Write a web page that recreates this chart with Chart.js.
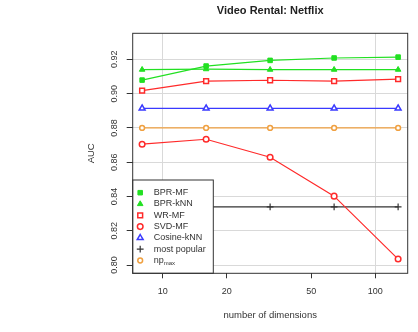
<!DOCTYPE html>
<html>
<head>
<meta charset="utf-8">
<script src="https://cdn.jsdelivr.net/npm/chart.js@4.4.1/dist/chart.umd.min.js"></script>
<style>
  html, body { margin: 0; padding: 0; background: #fff; }
  #wrap { width: 418px; height: 332px; }
</style>
</head>
<body>
<div id="wrap"><canvas id="auc_chart" width="418" height="332"></canvas></div>
<script>
// number of latent dimensions (x axis, log scale)
const dims = [8, 16, 32, 64, 128];

// AUC per method
const bprMF      = [0.9079, 0.9161, 0.9194, 0.9208, 0.9213];
const bprKNN     = [0.9140, 0.9143, 0.9140, 0.9140, 0.9140];
const wrMF       = [0.9018, 0.9073, 0.9078, 0.9073, 0.9085];
const svdMF      = [0.8705, 0.8734, 0.8629, 0.8402, 0.8035];
const cosineKNN  = [0.8914, 0.8914, 0.8914, 0.8914, 0.8914];
const mostPopular = [0.8340, 0.8340, 0.8340, 0.8340, 0.8340];
const npMax      = [0.8800, 0.8800, 0.8800, 0.8800, 0.8800];

const xTicks = [10, 20, 50, 100];
const yTicks = [0.80, 0.82, 0.84, 0.86, 0.88, 0.90, 0.92];

const textColor = "#333";
const gridColor = "#d9d9d9";
const fontFamily = "'Liberation Sans', Arial, sans-serif";

function pts(vals) {
    return dims.map((d, i) => ({ x: d, y: vals[i] }));
}

function series(label, vals, color, style, radius, filled, legendLabel) {
    return {
        label: label,
        legendLabel: legendLabel || [label],
        data: pts(vals),
        borderColor: color,
        backgroundColor: color,
        borderWidth: 1.2,
        pointStyle: style,
        pointRadius: radius,
        pointHoverRadius: radius,
        pointBorderColor: color,
        pointBackgroundColor: filled ? color : "#fff",
        pointBorderWidth: filled ? 1 : 1.5,
        tension: 0
    };
}

const datasets = [
    series("BPR-MF", bprMF, "#22e022", "rect", 3.2, true),
    series("BPR-kNN", bprKNN, "#22e022", "triangle", 3.2, true),
    series("WR-MF", wrMF, "#ff2a2a", "rect", 3.4, false),
    series("SVD-MF", svdMF, "#ff2a2a", "circle", 2.8, false),
    series("Cosine-kNN", cosineKNN, "#3a3aff", "triangle", 3.4, false),
    series("most popular", mostPopular, "#333", "cross", 3.4, true),
    series("np_max", npMax, "#f0a040", "circle", 2.4, false, ["np", "max"])
];
datasets[5].pointBorderWidth = 1.2;

// box round the plot area
const frame = {
    id: "frame",
    afterDraw(chart) {
        const { ctx, chartArea: a } = chart;
        ctx.save();
        ctx.strokeStyle = "#333";
        ctx.lineWidth = 1;
        ctx.strokeRect(a.left, a.top, a.right - a.left, a.bottom - a.top);
        ctx.restore();
    }
};

function drawMarker(ctx, style, r, x, y) {
    if (style === "rect") {
        const s = Math.SQRT1_2 * r;
        ctx.rect(x - s, y - s, 2 * s, 2 * s);
    } else if (style === "triangle") {
        ctx.moveTo(x, y - r);
        ctx.lineTo(x + r * 0.866, y + r * 0.5);
        ctx.lineTo(x - r * 0.866, y + r * 0.5);
        ctx.closePath();
    } else if (style === "cross") {
        ctx.moveTo(x - r, y); ctx.lineTo(x + r, y);
        ctx.moveTo(x, y - r); ctx.lineTo(x, y + r);
    } else {
        ctx.arc(x, y, r, 0, Math.PI * 2);
    }
}

// legend box in the bottom left corner, drawn over the lines
const boxLegend = {
    id: "boxLegend",
    afterDatasetsDraw(chart) {
        const { ctx, chartArea: a } = chart;
        const x0 = a.left, y0 = 180, w = 80.6, h = a.bottom - y0;
        ctx.save();
        ctx.fillStyle = "#fff";
        ctx.fillRect(x0, y0, w, h);
        ctx.strokeStyle = "#333";
        ctx.lineWidth = 1;
        ctx.strokeRect(x0, y0, w, h);
        ctx.textBaseline = "middle";
        ctx.textAlign = "left";
        chart.data.datasets.forEach((ds, i) => {
            const y = 192.7 + i * 11.3;
            ctx.fillStyle = ds.pointBackgroundColor;
            ctx.strokeStyle = ds.pointBorderColor;
            ctx.lineWidth = ds.pointBorderWidth;
            ctx.beginPath();
            drawMarker(ctx, ds.pointStyle, ds.pointRadius, x0 + 7.5, y);
            if (ds.pointStyle !== "cross") ctx.fill();
            ctx.stroke();
            ctx.fillStyle = textColor;
            ctx.font = "9px " + fontFamily;
            ctx.fillText(ds.legendLabel[0], x0 + 21, y);
            if (ds.legendLabel[1]) {
                const tw = ctx.measureText(ds.legendLabel[0]).width;
                ctx.font = "6px " + fontFamily;
                ctx.fillText(ds.legendLabel[1], x0 + 21 + tw, y + 2.5);
            }
        });
        ctx.restore();
    }
};

new Chart(document.getElementById("auc_chart"), {
    type: "line",
    data: { datasets: datasets },
    options: {
        responsive: false,
        animation: false,
        layout: { padding: { left: 0, right: 10.3, top: 0, bottom: 0 } },
        plugins: {
            legend: { display: false },
            tooltip: { enabled: false },
            title: {
                display: true,
                fullSize: false,
                text: "Video Rental: Netflix",
                color: "#222",
                font: { family: fontFamily, size: 11, weight: "bold" },
                padding: { top: 4, bottom: 16.1 }
            }
        },
        scales: {
            x: {
                type: "logarithmic",
                min: 7.225,
                max: 142,
                afterBuildTicks: s => { s.ticks = xTicks.map(v => ({ value: v })); },
                afterFit: s => { s.height = 332 - 273.3; },
                border: { display: false },
                grid: {
                    color: c => (c.tick && (c.tick.value === 10 || c.tick.value === 100)) ? gridColor : "rgba(0,0,0,0)",
                    tickColor: textColor,
                    tickLength: 5,
                    lineWidth: 1
                },
                ticks: {
                    autoSkip: false,
                    maxRotation: 0,
                    padding: 8,
                    color: textColor,
                    font: { family: fontFamily, size: 9 },
                    callback: v => String(v)
                },
                title: {
                    display: true,
                    text: "number of dimensions",
                    color: textColor,
                    font: { family: fontFamily, size: 9.5 },
                    padding: { top: 0, bottom: 10.5 }
                }
            },
            y: {
                min: 0.7952,
                max: 0.9352,
                afterBuildTicks: s => { s.ticks = yTicks.map(v => ({ value: v })); },
                afterFit: s => { s.width = 132.7; },
                border: { display: false },
                grid: { color: gridColor, tickColor: textColor, tickLength: 6, lineWidth: 1 },
                ticks: {
                    minRotation: 90,
                    maxRotation: 90,
                    crossAlign: "center",
                    padding: 3.5,
                    color: textColor,
                    font: { family: fontFamily, size: 9 },
                    callback: v => v.toFixed(2)
                },
                title: {
                    display: true,
                    text: "AUC",
                    color: textColor,
                    font: { family: fontFamily, size: 9.5 },
                    padding: { top: 85.7, bottom: 0 }
                }
            }
        }
    },
    plugins: [frame, boxLegend]
});
</script>
</body>
</html>
